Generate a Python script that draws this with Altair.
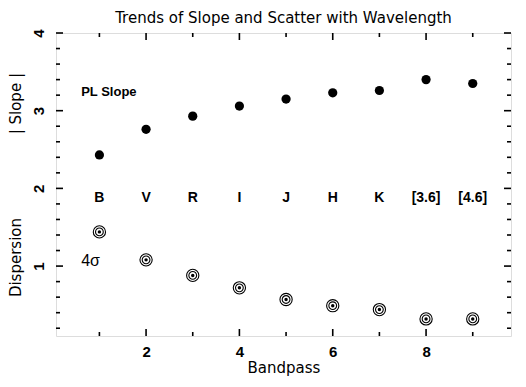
import altair as alt
import pandas as pd

# ---- data ----
bands = [1, 2, 3, 4, 5, 6, 7, 8, 9]
band_names = ["B", "V", "R", "I", "J", "H", "K", "[3.6]", "[4.6]"]
slope = [2.43, 2.76, 2.93, 3.06, 3.15, 3.23, 3.26, 3.40, 3.35]
dispersion = [1.44, 1.08, 0.88, 0.72, 0.57, 0.49, 0.44, 0.32, 0.32]

x_major = [2, 4, 6, 8]
x_minor = [1, 3, 5, 7, 9]
y_major = [1, 2, 3, 4]
y_minor = [0.2, 0.4, 0.6, 0.8, 1.2, 1.4, 1.6, 1.8, 2.2, 2.4, 2.6, 2.8,
           3.2, 3.4, 3.6, 3.8]

W, H = 455, 303
FONT = "DejaVu Sans"
LFONT = "Liberation Sans"

df = pd.DataFrame({"band": bands, "name": band_names,
                   "slope": slope, "disp": dispersion})
one = pd.DataFrame({"k": [0]})
dfx_major = pd.DataFrame({"v": x_major})
dfx_minor = pd.DataFrame({"v": x_minor})
dfy_major = pd.DataFrame({"v": y_major})
dfy_minor = pd.DataFrame({"v": y_minor})

xs = alt.Scale(domain=[0.07, 9.82], nice=False, zero=False)
ys = alt.Scale(domain=[0.1, 4.0], nice=False, zero=False)

x_axis = alt.Axis(values=x_major, title="Bandpass", ticks=False, tickSize=0,
                  domain=False, grid=False, labelFont=LFONT, labelFontSize=15,
                  labelFontWeight="bold", labelPadding=8, labelColor="black",
                  format="d",
                  titleFont=FONT, titleFontSize=15, titleFontWeight="normal",
                  titleColor="black", titlePadding=1)
y_axis = alt.Axis(values=y_major, title=None, ticks=False, tickSize=0,
                  domain=False, grid=False, labelFont=LFONT, labelFontSize=15,
                  labelFontWeight="bold", labelAngle=270, labelAlign="center",
                  labelBaseline="bottom", labelPadding=10, labelColor="black",
                  format="d")

X = lambda f: alt.X(f, scale=xs, axis=x_axis)
Y = lambda f: alt.Y(f, scale=ys, axis=y_axis)

slope_pts = alt.Chart(df).mark_circle(size=85, color="black", opacity=1).encode(
    x=X("band:Q"), y=Y("slope:Q"))

ring_outer = alt.Chart(df).mark_point(shape="circle", filled=False, size=150,
                                      color="black", strokeWidth=1.1, opacity=1).encode(
    x=X("band:Q"), y=Y("disp:Q"))
ring_mid = alt.Chart(df).mark_point(shape="circle", filled=False, size=60,
                                    color="black", strokeWidth=1.1, opacity=1).encode(
    x=X("band:Q"), y=Y("disp:Q"))
ring_dot = alt.Chart(df).mark_circle(size=12, color="black", opacity=1).encode(
    x=X("band:Q"), y=Y("disp:Q"))

band_labels = alt.Chart(df).mark_text(font=LFONT, fontSize=14, fontWeight="bold",
                                      color="black").encode(
    x=X("band:Q"), y=alt.datum(1.88), text="name:N")

pl_text = alt.Chart(one).mark_text(font=LFONT, fontSize=13, fontWeight="bold",
                                   align="left", color="black").encode(
    x=alt.datum(0.61), y=alt.datum(3.24), text=alt.value("PL Slope"))
sig_text = alt.Chart(one).mark_text(font=LFONT, fontSize=16, fontWeight="normal",
                                    align="left", color="black").encode(
    x=alt.datum(0.61), y=alt.datum(1.06), text=alt.value("4σ"))

ytitle1 = alt.Chart(one).mark_text(font=FONT, fontSize=15, fontWeight="normal",
                                   angle=270, color="black").encode(
    x=alt.value(-40), y=alt.datum(3.09), text=alt.value("| Slope |"))
ytitle2 = alt.Chart(one).mark_text(font=FONT, fontSize=15, fontWeight="normal",
                                   angle=270, color="black").encode(
    x=alt.value(-40), y=alt.datum(1.11), text=alt.value("Dispersion"))

MAJ, MIN, SW = 7, 4, 1.6

def vticks(d, length):
    bot = alt.Chart(d).mark_rule(color="black", strokeWidth=SW).encode(
        x=alt.X("v:Q", scale=xs, axis=x_axis), y=alt.value(H), y2=alt.value(H - length))
    top = alt.Chart(d).mark_rule(color="black", strokeWidth=SW).encode(
        x=alt.X("v:Q", scale=xs, axis=x_axis), y=alt.value(0), y2=alt.value(length))
    return [bot, top]

def hticks(d, length):
    left = alt.Chart(d).mark_rule(color="black", strokeWidth=SW).encode(
        y=alt.Y("v:Q", scale=ys, axis=y_axis), x=alt.value(0), x2=alt.value(length))
    right = alt.Chart(d).mark_rule(color="black", strokeWidth=SW).encode(
        y=alt.Y("v:Q", scale=ys, axis=y_axis), x=alt.value(W), x2=alt.value(W - length))
    return [left, right]

layers = (vticks(dfx_major, MAJ) + vticks(dfx_minor, MIN) +
          hticks(dfy_major, MAJ) + hticks(dfy_minor, MIN) +
          [slope_pts, ring_outer, ring_mid, ring_dot, band_labels,
           pl_text, sig_text, ytitle1, ytitle2])

chart = alt.layer(*layers).properties(
    width=W, height=H,
    title=alt.TitleParams("Trends of Slope and Scatter with Wavelength",
                          font=FONT, fontSize=15, fontWeight="normal",
                          color="black", anchor="middle", offset=3),
    autosize=alt.AutoSizeParams(type="none"),
    padding={"left": 48, "top": 25, "right": 5, "bottom": 43},
).configure_view(stroke="black", strokeWidth=2.2).configure(background="white")

chart.save("out.html", embed_options={"renderer": "svg", "actions": False})
